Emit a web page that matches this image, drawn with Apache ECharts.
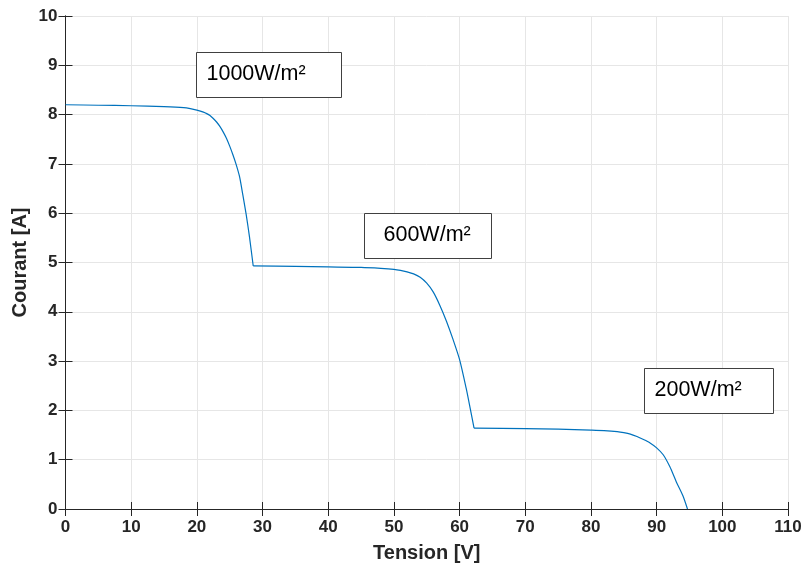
<!DOCTYPE html>
<html>
<head>
<meta charset="utf-8">
<script src="https://cdn.jsdelivr.net/npm/echarts@6/dist/echarts.min.js"></script>
<style>
html,body{margin:0;padding:0;background:#fff;}
#chart{width:804px;height:566px;}
</style>
</head>
<body>
<div id="chart"></div>
<script>
// Segment 1 (1000 W/m²)
const tension1 = [0,5,10,15,18,19,20,21,21.5,22,22.5,23,23.5,24,24.5,25,25.5,26,26.5,27,27.5,28,28.58];
const courant1 = [8.20,8.19,8.18,8.16,8.14,8.12,8.09,8.05,8.02,7.98,7.92,7.85,7.76,7.65,7.52,7.36,7.18,6.98,6.74,6.37,5.98,5.53,4.93];
// Segment 2 (600 W/m²)
const tension2 = [28.58,35,40,45,48,50,51,52,53,54,55,56,57,58,59,60,61,61.6,62.2];
const courant2 = [4.93,4.92,4.91,4.90,4.88,4.86,4.84,4.81,4.77,4.70,4.58,4.40,4.13,3.81,3.44,3.03,2.45,2.05,1.64];
// Segment 3 (200 W/m²)
const tension3 = [62.2,70,75,80,82,84,85,86,87,88,89,90,91,92,93,94,94.7];
const courant3 = [1.64,1.63,1.62,1.60,1.59,1.57,1.55,1.52,1.47,1.41,1.34,1.24,1.10,0.86,0.55,0.27,0.00];
const xTicks = [0,10,20,30,40,50,60,70,80,90,100,110];
const yTicks = [0,1,2,3,4,5,6,7,8,9,10];
const annotations = ['1000W/m²','600W/m²','200W/m²'];

const chart = echarts.init(document.getElementById('chart'));
const axisCol = '#262626';
const gridCol = '#e6e6e6';
const tickFont = {fontFamily:'Liberation Sans, Arial, sans-serif', fontWeight:'bold', fontSize:17, color:axisCol};
const titleFont = {fontFamily:'Liberation Sans, Arial, sans-serif', fontWeight:'bold', fontSize:20, color:axisCol};

function box(x,y,w,h,text,pad){
  return {type:'group', left:x, top:y, z:100, children:[
    {type:'rect', z:100, shape:{x:0,y:0,width:w,height:h}, style:{fill:'#fff', stroke:'#404040', lineWidth:1}},
    {type:'text', z:101, x:pad, y:h/2-1, style:{text:text, fill:'#000', font:'21.5px "Liberation Sans", Arial, sans-serif', verticalAlign:'middle', align:'left'}}
  ]};
}
function seg(xs,ys){
  return {type:'line', xAxisIndex:0, yAxisIndex:0,
    data:xs.map((t,i)=>[t,ys[i]]),
    showSymbol:false, smooth:0.25,
    lineStyle:{color:'#0072BD', width:1.2}, z:3};
}

chart.setOption({
  animation:false,
  grid:{left:65.5, right:16, top:16, bottom:57, containLabel:false, outerBoundsMode:'none'},
  xAxis:[{
    type:'value', min:xTicks[0], max:xTicks[xTicks.length-1], interval:10,
    name:'Tension [V]', nameLocation:'middle', nameGap:34, nameTextStyle:titleFont,
    axisLine:{show:true, lineStyle:{color:axisCol, width:1}},
    axisTick:{show:true, inside:true, length:7, lineStyle:{color:axisCol}},
    axisLabel:Object.assign({margin:10}, tickFont),
    splitLine:{show:true, lineStyle:{color:gridCol, width:1}}
  },{
    type:'value', position:'top', min:xTicks[0], max:xTicks[xTicks.length-1], interval:10,
    axisLine:{show:true, lineStyle:{color:axisCol, width:1}},
    axisTick:{show:true, inside:true, length:7, lineStyle:{color:axisCol}},
    axisLabel:{show:false}, splitLine:{show:false}
  }],
  yAxis:[{
    type:'value', min:yTicks[0], max:yTicks[yTicks.length-1], interval:1,
    name:'Courant [A]', nameLocation:'middle', nameGap:35, nameMoveOverlap:false, nameTextStyle:titleFont,
    axisLine:{show:true, lineStyle:{color:axisCol, width:1}},
    axisTick:{show:true, inside:true, length:7, lineStyle:{color:axisCol}},
    axisLabel:Object.assign({margin:8}, tickFont),
    splitLine:{show:true, lineStyle:{color:gridCol, width:1}}
  },{
    type:'value', position:'right', min:yTicks[0], max:yTicks[yTicks.length-1], interval:1,
    axisLine:{show:true, lineStyle:{color:axisCol, width:1}},
    axisTick:{show:true, inside:true, length:7, lineStyle:{color:axisCol}},
    axisLabel:{show:false}, splitLine:{show:false}
  }],
  series:[seg(tension1,courant1), seg(tension2,courant2), seg(tension3,courant3)],
  graphic:[
    box(196,52,145,45,annotations[0],10),
    box(364,213,127,45,annotations[1],19),
    box(644,368,129,45,annotations[2],10)
  ]
});
</script>
</body>
</html>
